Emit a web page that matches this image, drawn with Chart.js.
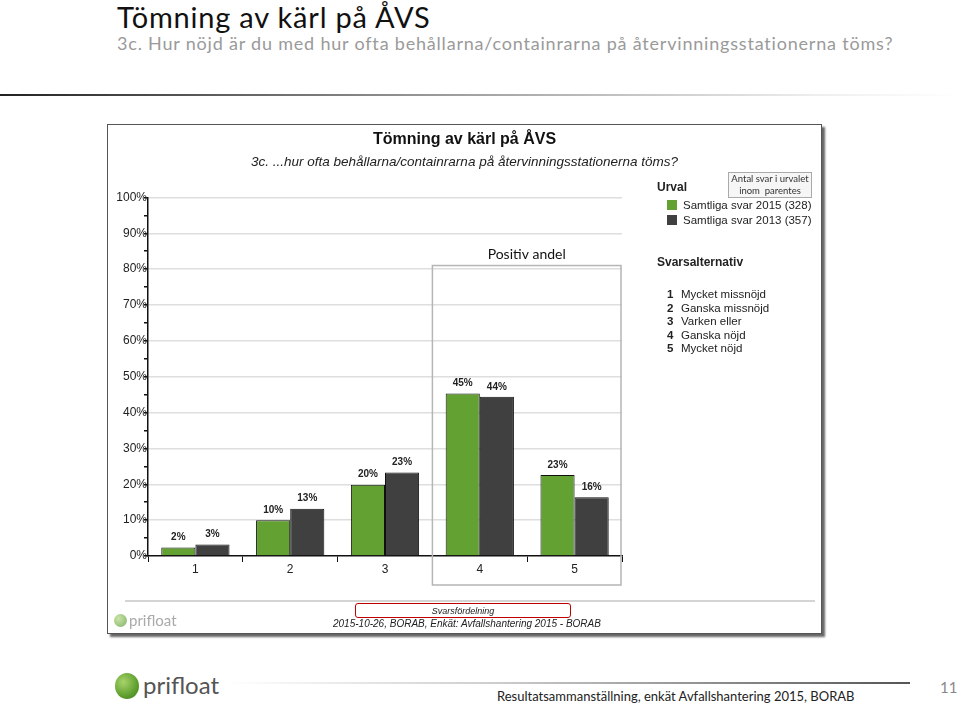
<!DOCTYPE html>
<html>
<head>
<meta charset="utf-8">
<script src="https://cdn.jsdelivr.net/npm/chart.js@4/dist/chart.umd.min.js"></script>
<style>
  body { margin: 0; width: 960px; height: 705px; background: #fff; position: relative; overflow: hidden; font-family: "Liberation Sans", Arial, sans-serif; }
  .abs { position: absolute; white-space: nowrap; }
  #slideTitle { left: 117px; top: -1px; font: 29px Lato, "DejaVu Sans", sans-serif; letter-spacing: 0.8px; color: #111; }
  #slideSub { left: 117px; top: 32px; font: 18px Lato, "DejaVu Sans", sans-serif; letter-spacing: 0.8px; color: #9a9a9a; }
  #topLine { left: 0; top: 94px; width: 960px; height: 2px; background: linear-gradient(to right, #222, #999 45%, #eee 85%, #fff); }
  #frame { left: 107px; top: 124px; width: 713px; height: 508px; border: 1px solid #555; box-shadow: 3px 3px 2px #666; background: #fff; }
  #chartBox { left: 107px; top: 124px; width: 715px; height: 510px; }
  #legend { left: 657px; top: 180px; font-size: 11.5px; color: #222; }
  .leg-title { font-weight: bold; font-size: 12px; }
  .leg-row { position: absolute; left: 10px; white-space: nowrap; }
  .sw { display: inline-block; width: 10px; height: 10px; margin-right: 6px; vertical-align: -1px; }
  #note { left: 728px; top: 172px; width: 82px; height: 24px; border: 1px solid #aaa; background: #f6f6f6; font: 9.5px Lato, sans-serif; color: #333; text-align: center; line-height: 11.5px; }
  #innerLine { left: 125px; top: 600px; width: 690px; height: 2px; background: #d4d4d4; }
  #redBox { left: 355px; top: 603px; width: 214px; height: 13px; border: 1.5px solid #c00000; border-radius: 3px; font: italic 9px "Liberation Sans", Arial, sans-serif; color: #222; text-align: center; line-height: 14px; }
  #source { left: 333px; top: 618px; font: italic 10px "Liberation Sans", Arial, sans-serif; color: #222; }
  .logo-dot { border-radius: 50%; background: radial-gradient(circle at 35% 35%, #a8d36b, #5f9f2f 60%, #3d7a1c); }
  #footText { left: 497px; top: 688px; font: 13px Lato, sans-serif; color: #222; }
  #pageNo { left: 940px; top: 678px; font: 15px Lato, sans-serif; color: #888; }
  #bottomLine { left: 228px; top: 682px; width: 682px; height: 2px; background: linear-gradient(to right, #fff, #ccc 40%, #555); }
</style>
</head>
<body>
<div class="abs" id="slideTitle">Tömning av kärl på ÅVS</div>
<div class="abs" id="slideSub">3c. Hur nöjd är du med hur ofta behållarna/containrarna på återvinningsstationerna töms?</div>
<div class="abs" id="topLine"></div>

<div class="abs" id="frame"></div>
<div class="abs" id="chartBox"><canvas id="chart" width="715" height="510"></canvas></div>

<div class="abs" id="legend"></div>
<div class="abs" id="note">Antal svar i urvalet<br>inom&nbsp; parentes</div>

<div class="abs" id="innerLine"></div>
<div class="abs" id="redBox">Svarsfördelning</div>
<div class="abs" id="source">2015-10-26, BORAB, Enkät: Avfallshantering 2015 - BORAB</div>
<div class="abs logo-dot" style="left:114px;top:614px;width:13px;height:13px;opacity:0.6"></div>
<div class="abs" style="left:129px;top:611px;font:15px Lato,sans-serif;color:#aaa">prifloat</div>

<div class="abs logo-dot" style="left:115px;top:673px;width:24px;height:26px"></div>
<div class="abs" style="left:143px;top:670px;font:24px Lato,sans-serif;color:#555">prifloat</div>
<div class="abs" id="bottomLine"></div>
<div class="abs" id="footText">Resultatsammanställning, enkät Avfallshantering 2015, BORAB</div>
<div class="abs" id="pageNo">11</div>

<script>
// data
const categories = ['1', '2', '3', '4', '5'];
const answerLabels = ['Mycket missnöjd', 'Ganska missnöjd', 'Varken eller', 'Ganska nöjd', 'Mycket nöjd'];
const seriesNames = ['Samtliga svar 2015 (328)', 'Samtliga svar 2013 (357)'];
const values2015 = [2.4, 10.0, 19.9, 45.3, 22.6];
const values2013 = [3.2, 13.2, 23.3, 44.4, 16.4];
const seriesColors = ['#62a132', '#404040'];

// legend (Urval + Svarsalternativ)
const legend = document.getElementById('legend');
let html = '<div class="leg-title" style="position:absolute;left:0;top:0">Urval</div>';
seriesNames.forEach((name, i) => {
  html += `<div class="leg-row" style="top:${19 + i * 15}px"><span class="sw" style="background:${seriesColors[i]}"></span>${name}</div>`;
});
html += '<div class="leg-title" style="position:absolute;left:0;top:75px;white-space:nowrap">Svarsalternativ</div>';
answerLabels.forEach((txt, i) => {
  html += `<div class="leg-row" style="top:${108 + i * 13.5}px"><b style="display:inline-block;width:14px">${categories[i]}</b>${txt}</div>`;
});
legend.innerHTML = html;

// value labels above bars + "Positiv andel" frame
const extras = {
  id: 'extras',
  afterDatasetsDraw(chart) {
    const ctx = chart.ctx;
    ctx.save();
    ctx.font = 'bold 10px "Liberation Sans", Arial, sans-serif';
    ctx.fillStyle = '#222';
    ctx.textAlign = 'center';
    ctx.textBaseline = 'middle';
    chart.data.datasets.forEach((ds, di) => {
      chart.getDatasetMeta(di).data.forEach((bar, i) => {
        ctx.fillText(Math.round(ds.data[i]) + '%', bar.x, bar.y - 10);
      });
    });
    const x = chart.scales.x, y = chart.scales.y;
    const half = (x.getPixelForValue(1) - x.getPixelForValue(0)) / 2;
    const left = x.getPixelForValue(3) - half;
    const right = chart.chartArea.right - 1;
    const top = y.getPixelForValue(81);
    const bottom = chart.chartArea.bottom + 29;
    ctx.strokeStyle = '#b5b5b5';
    ctx.lineWidth = 1.5;
    ctx.strokeRect(left, top, right - left, bottom - top);
    ctx.font = '14px Lato, sans-serif';
    ctx.fillStyle = '#111';
    ctx.fillText('Positiv andel', (left + right) / 2, top - 11);
    ctx.restore();
  }
};

new Chart(document.getElementById('chart'), {
  type: 'bar',
  data: {
    labels: categories,
    datasets: [
      { label: seriesNames[0], data: values2015, backgroundColor: seriesColors[0], borderColor: '#111', borderWidth: 1 },
      { label: seriesNames[1], data: values2013, backgroundColor: seriesColors[1], borderColor: '#111', borderWidth: 1 }
    ]
  },
  options: {
    responsive: false,
    animation: false,
    categoryPercentage: 0.72,
    barPercentage: 1,
    layout: { padding: { left: 0, right: 0, bottom: 48, top: 0 } },
    plugins: {
      legend: { display: false },
      tooltip: { enabled: false },
      title: {
        display: true,
        text: 'Tömning av kärl på ÅVS',
        font: { family: '"Liberation Sans", Arial, sans-serif', size: 16, weight: 'bold' },
        color: '#111',
        padding: { top: 6, bottom: 4 }
      },
      subtitle: {
        display: true,
        text: '3c. ...hur ofta behållarna/containrarna på återvinningsstationerna töms?',
        font: { family: '"Liberation Sans", Arial, sans-serif', size: 13.5, style: 'italic' },
        color: '#222',
        padding: { top: 1, bottom: 27 }
      }
    },
    scales: {
      x: {
        offset: true,
        grid: { offset: true, drawOnChartArea: false, tickLength: 6, color: '#111' },
        border: { color: '#111', width: 1.5 },
        ticks: { color: '#222', font: { size: 12 }, padding: 0 },
        afterFit(scale) { scale.height = 30; }
      },
      y: {
        min: 0, max: 100,
        ticks: {
          stepSize: 5,
          color: '#222',
          font: { size: 12 },
          padding: -3,
          callback: v => (v % 10 === 0 ? v + '%' : '')
        },
        grid: {
          color: c => (c.tick && c.tick.value % 10 === 0 && c.tick.value > 0 ? '#dedede' : 'rgba(0,0,0,0)'),
          tickColor: '#111',
          tickLength: 4,
          lineWidth: 1.5
        },
        border: { color: '#111', width: 1.5 },
        afterFit(scale) { scale.width = 41; }
      },
      // empty right-hand axis that reserves the space used by the legend
      side: {
        position: 'right',
        display: true,
        ticks: { display: false },
        grid: { display: false },
        border: { display: false },
        afterFit(scale) { scale.width = 200; }
      }
    }
  },
  plugins: [extras]
});
</script>
</body>
</html>
